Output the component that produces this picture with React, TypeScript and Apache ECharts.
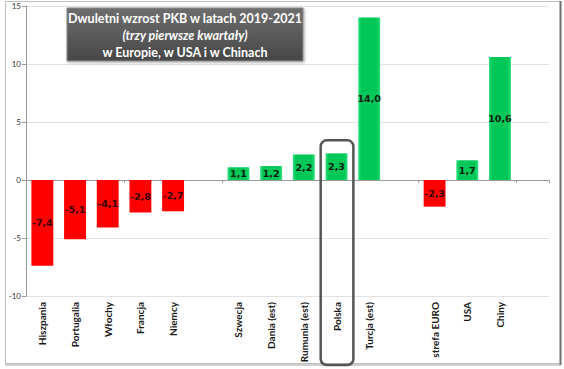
import React, { useEffect, useRef } from "react";
import * as echarts from "echarts";

const categories = [
  "Hiszpania", "Portugalia", "Włochy", "Francja", "Niemcy", " ",
  "Szwecja", "Dania (est)", "Rumunia (est)", "Polska", "Turcja (est)", "  ",
  "strefa EURO", "USA", "Chiny", "   ",
];
const values: (number | null)[] = [
  -7.4, -5.1, -4.1, -2.8, -2.7, null,
  1.1, 1.2, 2.2, 2.3, 14.0, null,
  -2.3, 1.7, 10.6, null,
];
const yTicks = { min: -10, max: 15, interval: 5 };
const titleLines = [
  "Dwuletni wzrost PKB w latach 2019-2021",
  "(trzy pierwsze kwartały)",
  "w Europie, w USA i w Chinach",
];
const highlighted = "Polska";

const green = {
  type: "linear", x: 0, y: 0, x2: 1, y2: 0,
  colorStops: [
    { offset: 0, color: "#2fe07e" },
    { offset: 0.14, color: "#00c858" },
    { offset: 0.86, color: "#00c858" },
    { offset: 1, color: "#2fe07e" },
  ],
};

export default function App() {
  const ref = useRef<HTMLDivElement>(null);
  useEffect(() => {
    const chart = echarts.init(ref.current!, null, { renderer: "svg" });
    const fmt = (v: number) => v.toFixed(1).replace(".", ",");
    chart.setOption({
      animation: false,
      backgroundColor: "#ffffff",
      grid: { left: 26, right: 15, top: 6, bottom: 73, containLabel: false },
      xAxis: [
        {
          type: "category",
          data: categories,
          position: "bottom",
          axisLine: { show: false, onZero: false },
          axisTick: { show: false },
          axisLabel: {
            rotate: 90,
            interval: 0,
            fontFamily: "Lato",
            fontWeight: "bold",
            fontSize: 10,
            color: "#1a1a1a",
            margin: 6,
          },
          splitLine: { show: false },
        },
        {
          type: "category",
          data: categories,
          position: "bottom",
          axisLine: { show: true, onZero: true, lineStyle: { color: "#9a9a9a", width: 1 } },
          axisTick: { show: true, length: 3, lineStyle: { color: "#9a9a9a" } },
          axisLabel: { show: false },
          splitLine: { show: false },
        },
      ],
      yAxis: {
        type: "value",
        min: yTicks.min,
        max: yTicks.max,
        interval: yTicks.interval,
        axisLine: { show: true, lineStyle: { color: "#9a9a9a" } },
        axisTick: { show: true, length: 4, lineStyle: { color: "#9a9a9a" } },
        axisLabel: { fontSize: 8, color: "#333", margin: 5, fontFamily: "Lato" },
        splitLine: { show: true, lineStyle: { color: "#e2e2e2" } },
      },
      series: [
        {
          type: "bar",
          xAxisIndex: 0,
          barWidth: "67%",
          data: values.map((v) =>
            v == null
              ? null
              : {
                  value: v,
                  itemStyle: v < 0 ? { color: "#ff0000" } : { color: green },
                  label: { color: v < 0 ? "#330000" : "#0a200e" },
                }
          ),
          label: {
            show: true,
            position: "inside",
            formatter: (p: any) => fmt(p.value),
            fontFamily: "DejaVu Sans",
            fontWeight: "bold",
            fontSize: 9.5,
          },
        },
      ],
    });

    const idx = categories.indexOf(highlighted);
    const cx = chart.convertToPixel({ xAxisIndex: 0 }, idx) as number;
    const c0 = chart.convertToPixel({ xAxisIndex: 0 }, 0) as number;
    const c1 = chart.convertToPixel({ xAxisIndex: 0 }, 1) as number;
    const bw = c1 - c0;
    const barTop = chart.convertToPixel({ yAxisIndex: 0 }, values[idx] as number) as number;

    chart.setOption({
      graphic: [
        {
          type: "rect",
          silent: true,
          shape: { x: 5.5, y: 1.5, width: 555, height: 362 },
          style: { fill: "none", stroke: "#bdbdbd", lineWidth: 1 },
          z: 100,
        },
        {
          type: "line",
          silent: true,
          shape: { x1: 560.5, y1: 1, x2: 560.5, y2: 365 },
          style: { stroke: "#6e6e6e", lineWidth: 2 },
          z: 100,
        },
        {
          type: "line",
          silent: true,
          shape: { x1: 5, y1: 365, x2: 561, y2: 365 },
          style: { stroke: "#a0a0a0", lineWidth: 1 },
          z: 100,
        },
        {
          type: "rect",
          silent: true,
          shape: { x: 67, y: 8, width: 236, height: 53 },
          style: {
            fill: {
              type: "linear", x: 0, y: 0, x2: 0, y2: 1,
              colorStops: [
                { offset: 0, color: "#6e6e6e" },
                { offset: 1, color: "#474747" },
              ],
            },
            stroke: "#8a8a8a",
            lineWidth: 1,
            shadowColor: "rgba(0,0,0,0.35)",
            shadowBlur: 3,
            shadowOffsetX: 1,
            shadowOffsetY: 1,
          },
          z: 100,
        },
        ...titleLines.map((t, i) => ({
          type: "text",
          silent: true,
          x: 185,
          y: 18 + i * 17,
          style: {
            text: t,
            fill: "#ffffff",
            fontFamily: "Lato",
            fontWeight: "bold",
            fontStyle: i === 1 ? "italic" : "normal",
            fontSize: 12.5,
            align: "center",
            verticalAlign: "middle",
          },
          z: 101,
        })),
        {
          type: "rect",
          silent: true,
          shape: { x: cx - bw / 2 + 0.5, y: barTop - 13, width: bw, height: 365 - (barTop - 13), r: 6 },
          style: { fill: "none", stroke: "#555555", lineWidth: 2.5 },
          z: 102,
        },
      ],
    });
    return () => chart.dispose();
  }, []);
  return (
    <div
      ref={ref}
      style={{ position: "fixed", left: 0, top: 0, width: 564, height: 369 }}
    />
  );
}
